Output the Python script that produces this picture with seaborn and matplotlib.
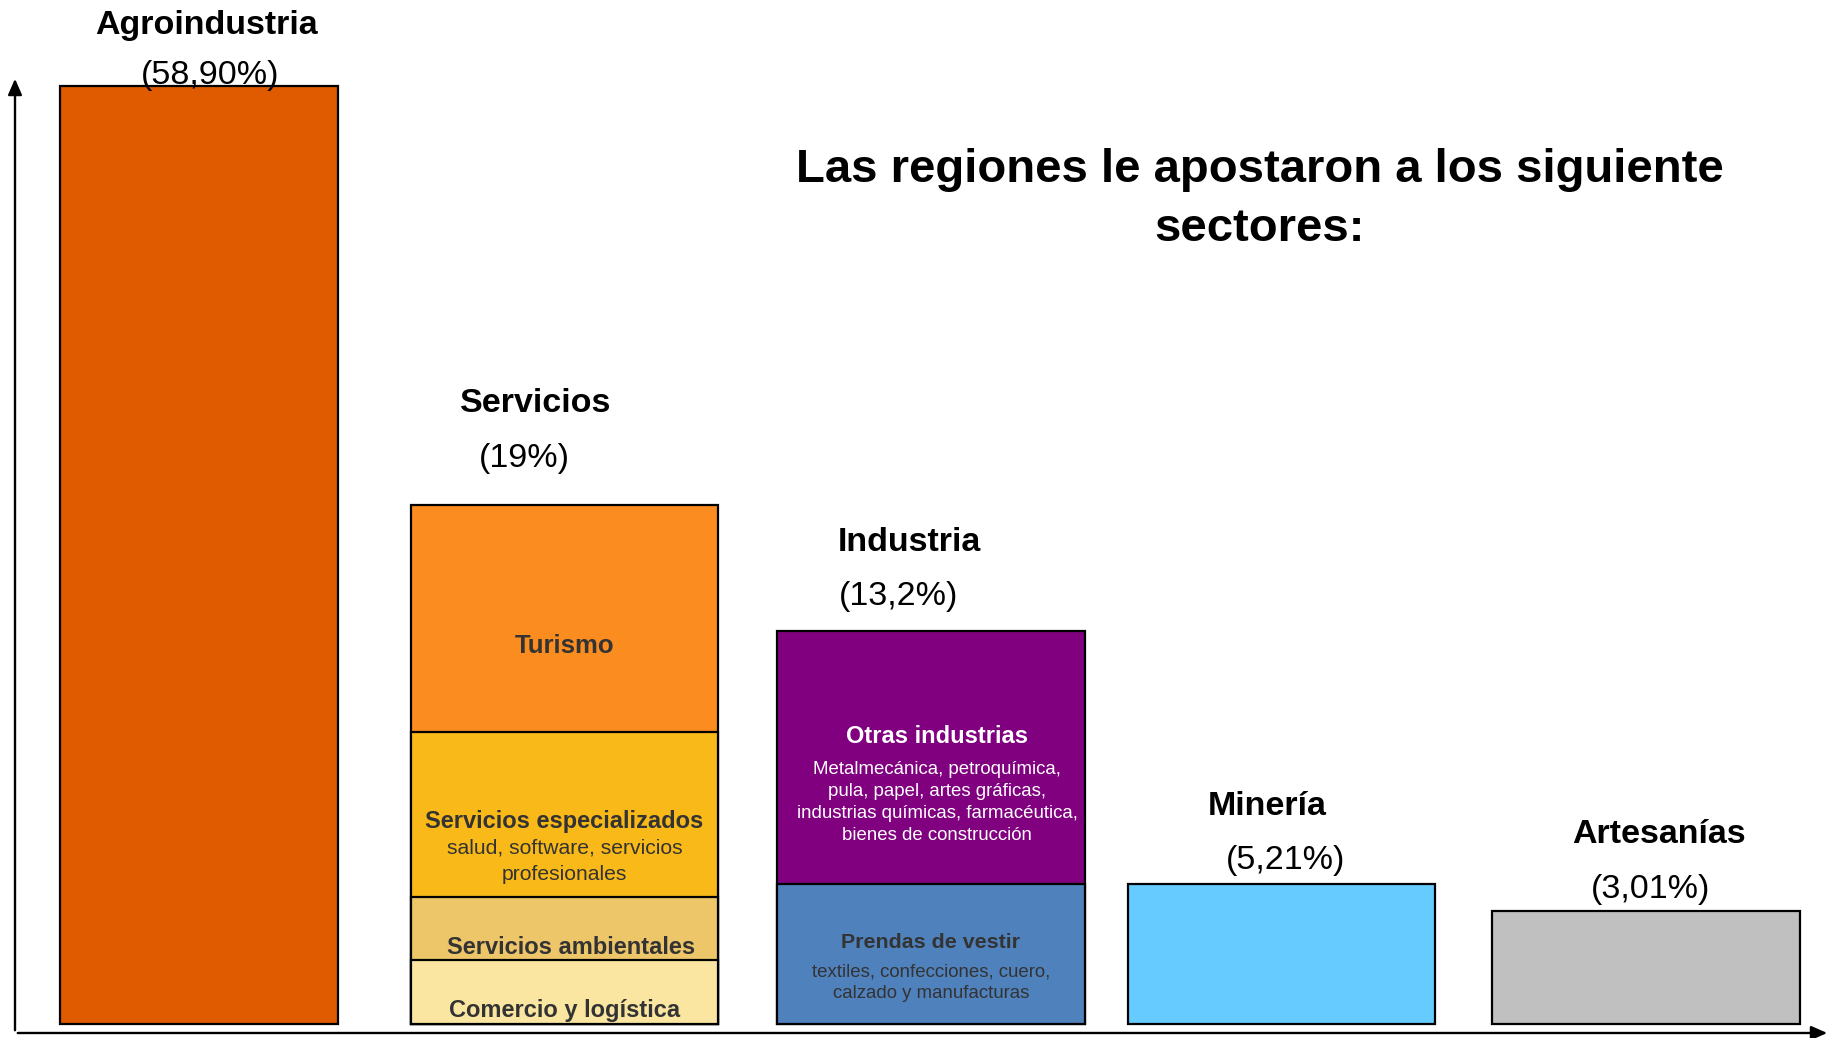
import matplotlib
matplotlib.use("Agg")
import matplotlib.pyplot as plt
import seaborn as sns
import pandas as pd

# ---------------- data ----------------
sectors = ["Agroindustria", "Servicios", "Industria", "Minería", "Artesanías"]
shares = ["(58,90%)", "(19%)", "(13,2%)", "(5,21%)", "(3,01%)"]

seg_sector = ["Agroindustria", "Servicios", "Servicios", "Servicios", "Servicios",
              "Industria", "Industria", "Minería", "Artesanías"]
seg_name = ["Agroindustria", "Comercio y logística", "Servicios ambientales",
            "Servicios especializados", "Turismo", "Prendas de vestir",
            "Otras industrias", "Minería", "Artesanías"]
seg_height = [100.0, 6.75, 6.75, 17.6, 24.25, 14.9, 27.0, 14.9, 12.0]
seg_detail = ["", "", "", "salud, software, servicios\nprofesionales", "",
              "textiles, confecciones, cuero,\ncalzado y manufacturas",
              "Metalmecánica, petroquímica,\npula, papel, artes gráficas,\n"
              "industrias químicas, farmacéutica,\nbienes de construcción",
              "", ""]

title = "Las regiones le apostaron a los siguiente\nsectores:"

# ---------------- styles ----------------
seg_color = {
    "Agroindustria": "#E05A00",
    "Comercio y logística": "#FBE6A1",
    "Servicios ambientales": "#EDC66A",
    "Servicios especializados": "#F9B918",
    "Turismo": "#FB8C1F",
    "Prendas de vestir": "#4F81BD",
    "Otras industrias": "#800080",
    "Minería": "#66CCFF",
    "Artesanías": "#C0C0C0",
}
# small horizontal shifts of each bar (layout)
bar_shift = [0.0, 0.0097, 0.0227, -0.008, 0.0]
# label layout: (dx, y of title, title size, title color, y of detail, detail size, spacing)
seg_layout = {
    "Turismo": (0.0, 40.25, 18.5, "#333333", None, None, None),
    "Servicios especializados": (0.0, 21.6, 17, "#333333", 17.3, 15.2, 1.47),
    "Servicios ambientales": (0.018, 8.1, 17, "#333333", None, None, None),
    "Comercio y logística": (0.0, 1.35, 17, "#333333", None, None, None),
    "Otras industrias": (0.018, 30.6, 17, "white", 23.6, 13.4, 1.37),
    "Prendas de vestir": (0.0, 8.6, 15.4, "#333333", 4.35, 13.4, 1.35),
}
# sector label offsets: (dx name, dy name, dx pct, dy pct)
sector_layout = [
    (0.02, 6.45, 0.03, 1.15),
    (-0.08, 10.8, -0.11, 4.95),
    (-0.06, 9.45, -0.09, 3.65),
    (-0.04, 8.25, 0.01, 2.45),
    (0.035, 8.15, 0.013, 2.35),
]

sns.set_theme(style="white")
plt.rcParams["font.family"] = ["Liberation Sans", "DejaVu Sans"]
plt.rcParams["text.color"] = "black"

df = pd.DataFrame({"sector": seg_sector, "segment": seg_name,
                   "height": seg_height, "detail": seg_detail})
df["top"] = df.groupby("sector")["height"].cumsum()
df["bottom"] = df["top"] - df["height"]

fig = plt.figure(figsize=(18.36, 10.38), dpi=100)
ax = fig.add_axes([15 / 1836, 5 / 1038, 1815 / 1836, 957 / 1038])

for _, row in df.sort_values("top", ascending=False).iterrows():
    sns.barplot(x=[row["sector"]], y=[row["top"]], order=sectors,
                color=seg_color[row["segment"]], saturation=1, width=0.85,
                edgecolor="black", linewidth=1.6, errorbar=None, ax=ax)

# per-bar layout tweaks: Agroindustria narrower, small shifts
for p in ax.patches:
    cx = p.get_x() + p.get_width() / 2
    idx = int(round(cx))
    if idx == 0:
        p.set_width(0.77)
        p.set_x(-0.385)
    p.set_x(p.get_x() + bar_shift[idx])

ax.set_xlim(-0.509, 4.508)
ax.set_ylim(-1.01, 101.1)
ax.set_axis_off()

# axes arrows
arrow_kw = dict(arrowstyle="-|>,head_length=0.8,head_width=0.35", color="black", lw=1.7)
ax.annotate("", xy=(0, 1), xytext=(0, 0), xycoords="axes fraction",
            arrowprops=arrow_kw, annotation_clip=False)
ax.annotate("", xy=(1, 0), xytext=(0, 0), xycoords="axes fraction",
            arrowprops=arrow_kw, annotation_clip=False)

# sector labels
totals = df.groupby("sector")["top"].max()
for i, (sec, pct) in enumerate(zip(sectors, shares)):
    dxn, dyn, dxp, dyp = sector_layout[i]
    top = totals[sec]
    xc = i + bar_shift[i]
    ax.text(xc + dxn, top + dyn, sec, ha="center", va="center",
            fontsize=24.5, fontweight="bold", color="black")
    ax.text(xc + dxp, top + dyp, pct, ha="center", va="center",
            fontsize=24.5, color="black")

# segment labels
for _, row in df.iterrows():
    if row["segment"] not in seg_layout:
        continue
    i = sectors.index(row["sector"])
    xc = i + bar_shift[i]
    dx, yt, st, col, yd, sd, ls = seg_layout[row["segment"]]
    ax.text(xc + dx, yt, row["segment"], ha="center", va="center",
            fontsize=st, fontweight="bold", color=col)
    if yd is not None and row["detail"]:
        ax.text(xc + dx, yd, row["detail"], ha="center", va="center",
                fontsize=sd, color=col, linespacing=ls)

fig.text(0.686, 0.8078, title, ha="center", va="center", fontsize=34,
         fontweight="bold", linespacing=1.42, color="black")

fig.savefig("out.png", dpi=100)
